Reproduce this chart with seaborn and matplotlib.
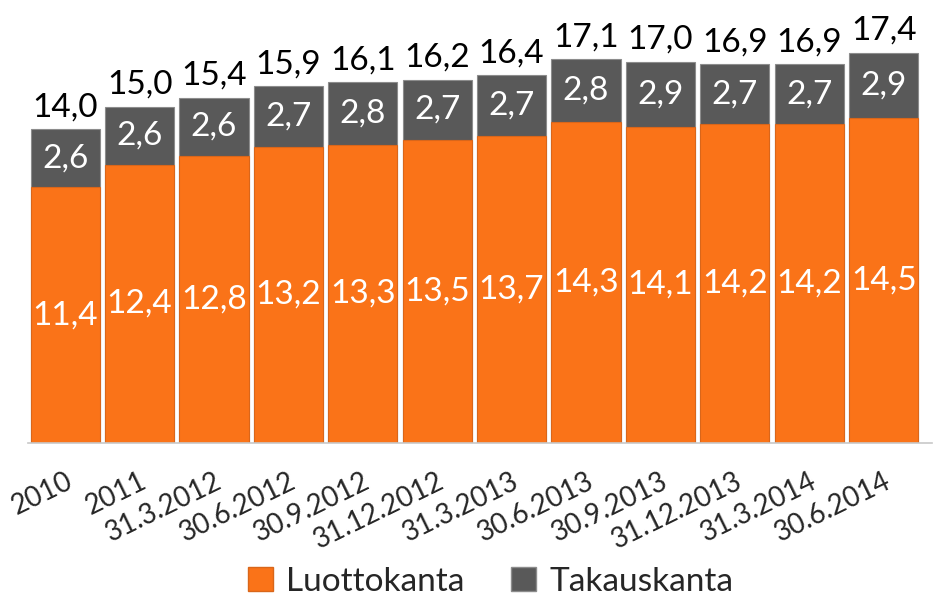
import numpy as np
import pandas as pd
import matplotlib.pyplot as plt
import seaborn as sns
from matplotlib.patches import Patch

periods = ['2010', '2011', '31.3.2012', '30.6.2012', '30.9.2012', '31.12.2012',
           '31.3.2013', '30.6.2013', '30.9.2013', '31.12.2013', '31.3.2014', '30.6.2014']
luottokanta = [11.4, 12.4, 12.8, 13.2, 13.3, 13.5, 13.7, 14.3, 14.1, 14.2, 14.2, 14.5]
takauskanta = [2.6, 2.6, 2.6, 2.7, 2.8, 2.7, 2.7, 2.8, 2.9, 2.7, 2.7, 2.9]
totals = [14.0, 15.0, 15.4, 15.9, 16.1, 16.2, 16.4, 17.1, 17.0, 16.9, 16.9, 17.4]

orange = '#FA7318'
grey = '#595959'

sns.set_style('white')
plt.rcParams['font.family'] = ['Lato', 'DejaVu Sans']

df = pd.DataFrame({'period': periods, 'luotto': luottokanta,
                   'takaus': takauskanta, 'total': totals})

fig = plt.figure(figsize=(9.35, 5.97), dpi=100)
ax = fig.add_axes([28 / 935, (597 - 443) / 597, 904 / 935, 443 / 597])

# stacked: draw totals in grey, then the orange part over them
sns.barplot(data=df, x='period', y='total', color=grey, saturation=1,
            width=0.93, edgecolor='#8c8c8c', linewidth=0.8, ax=ax)
sns.barplot(data=df, x='period', y='luotto', color=orange, saturation=1,
            width=0.93, edgecolor='#d9661a', linewidth=0.8, ax=ax)

ax.set_ylim(0, 19.75)
ax.set_xlim(-0.5, 11.65)
ax.set_xlabel('')
ax.set_ylabel('')
ax.set_yticks([])
sns.despine(ax=ax, left=True)
ax.spines['bottom'].set_color('#c8c8c8')
ax.spines['bottom'].set_linewidth(1.2)

fmt = lambda v: f'{v:.1f}'.replace('.', ',')
for i in range(len(periods)):
    ax.text(i, luottokanta[i] / 2, fmt(luottokanta[i]),
            ha='center', va='center', color='white', fontsize=24)
    ax.text(i, luottokanta[i] + takauskanta[i] / 2, fmt(takauskanta[i]),
            ha='center', va='center', color='white', fontsize=24)
    ax.text(i, totals[i] + 0.3, fmt(totals[i]),
            ha='center', va='bottom', color='black', fontsize=24)

ax.tick_params(axis='x', length=0, pad=18)
plt.setp(ax.get_xticklabels(), rotation=26, ha='right', rotation_mode='anchor',
         fontsize=20)

handles = [Patch(facecolor=orange, edgecolor='#d9661a'),
           Patch(facecolor=grey, edgecolor='#8c8c8c')]
fig.legend(handles, ['Luottokanta', 'Takauskanta'], loc='lower center',
           bbox_to_anchor=(0.525, -0.05), ncol=2, frameon=False, fontsize=24,
           handlelength=0.75, handleheight=0.75, handletextpad=0.4, columnspacing=1.4)

fig.savefig('out.png', dpi=100)
